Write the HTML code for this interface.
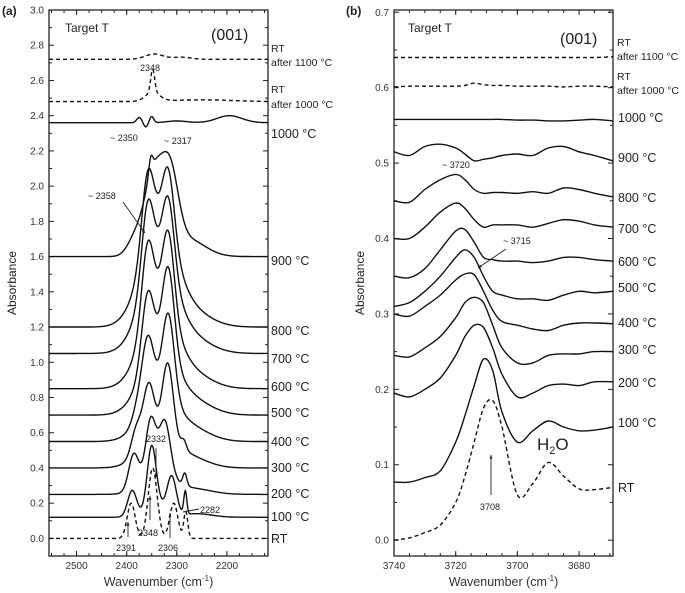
<!DOCTYPE html>
<html><head><meta charset="utf-8">
<style>
html,body{margin:0;padding:0;background:#fff;}
svg{display:block;font-family:"Liberation Sans",Arial,sans-serif;}
</style></head>
<body>
<svg id="chart" width="685" height="593" viewBox="0 0 685 593">
<g id="L"></g>
<g id="R"></g>
</svg>
<script>
// ---------- Panel (a) data ----------
const leftLabels = ['RT','100 °C','200 °C','300 °C','400 °C','500 °C','600 °C','700 °C','800 °C','900 °C','1000 °C','RT after 1000 °C','RT after 1100 °C'];
const leftBase = [0,0.12,0.25,0.40,0.55,0.70,0.85,1.05,1.20,1.60,2.36,2.48,2.72];
const leftDashed = [true,false,false,false,false,false,false,false,false,false,false,true,true];
// peaks: [center, height, sigma]
const leftPeaks = [
 [[2391,0.20,8],[2348,0.40,9],[2306,0.20,8],[2282,0.15,4]],
 [[2389,0.15,9],[2350,0.36,9],[2310,0.2,9],[2283,0.13,3],[2335,0.06,22],[2260,0.02,30]],
 [[2386,0.2,10],[2352,0.32,10],[2324,0.3,11],[2284,0.07,4],[2337,0.12,30],[2265,0.03,35]],
 [[2381,0.14,10],[2356,0.32,11],[2318,0.42,11],[2286,0.05,5],[2337,0.18,35],[2270,0.05,35]],
 [[2380,0.06,10],[2358,0.38,12],[2317,0.48,12],[2337,0.25,35],[2272,0.07,38]],
 [[2358,0.4,12],[2317,0.5,12],[2337,0.35,35],[2272,0.08,40]],
 [[2358,0.45,12],[2317,0.47,12],[2337,0.45,35],[2272,0.08,40]],
 [[2358,0.44,12],[2317,0.42,12],[2337,0.5,35],[2272,0.08,40]],
 [[2358,0.42,12],[2317,0.39,12],[2337,0.55,35],[2272,0.08,40]],
 [[2345,0.47,20],[2312,0.37,16],[2352,0.09,4],[2280,0.1,35],[2385,0.08,15]],
 [[2375,0.03,5],[2362,-0.025,4],[2350,0.035,4],[2195,0.04,25],[2300,0.01,20]],
 [[2348,0.13,4],[2348,0.05,14],[2250,0.01,60]],
 [[2345,0.03,18],[2290,0.012,18]]
];
const leftYTicks = ['0.0','0.2','0.4','0.6','0.8','1.0','1.2','1.4','1.6','1.8','2.0','2.2','2.4','2.6','2.8','3.0'];
const leftXTicks = [2500,2400,2300,2200];

// ---------- Panel (b) data ----------
const rightX = [3740,3735,3730,3725,3720,3717,3714,3711,3708,3705,3700,3695,3690,3685,3680,3675,3669];
const rightLabels = ['RT','100 °C','200 °C','300 °C','400 °C','500 °C','600 °C','700 °C','800 °C','900 °C','1000 °C','RT after 1000 °C','RT after 1100 °C'];
const rightDashed = [true,false,false,false,false,false,false,false,false,false,false,true,true];
const rightRT   = [0,0.003,0.01,0.02,0.05,0.085,0.13,0.175,0.185,0.15,0.06,0.075,0.103,0.085,0.068,0.067,0.07];
const right100  = [0.077,0.077,0.083,0.092,0.13,0.165,0.205,0.24,0.225,0.17,0.13,0.145,0.158,0.15,0.145,0.146,0.15];
const right200  = [0.195,0.19,0.2,0.215,0.245,0.27,0.285,0.282,0.255,0.22,0.19,0.195,0.205,0.207,0.205,0.21,0.21];
const right300  = [0.245,0.243,0.255,0.27,0.295,0.315,0.322,0.315,0.285,0.255,0.235,0.235,0.245,0.247,0.247,0.25,0.25];
const right400  = [0.30,0.297,0.31,0.325,0.345,0.353,0.352,0.33,0.305,0.29,0.285,0.28,0.278,0.285,0.288,0.288,0.287];
const right500  = [0.31,0.315,0.33,0.35,0.375,0.385,0.375,0.35,0.33,0.325,0.32,0.32,0.318,0.325,0.33,0.328,0.33];
const right600  = [0.35,0.348,0.36,0.385,0.41,0.412,0.395,0.375,0.372,0.37,0.37,0.368,0.37,0.375,0.375,0.372,0.37];
const right700  = [0.40,0.40,0.415,0.435,0.447,0.44,0.425,0.415,0.418,0.418,0.418,0.415,0.42,0.425,0.423,0.418,0.415];
const right800  = [0.45,0.448,0.465,0.478,0.485,0.478,0.465,0.46,0.461,0.461,0.46,0.462,0.46,0.467,0.465,0.46,0.455];
const right900  = [0.515,0.51,0.522,0.525,0.52,0.512,0.503,0.505,0.507,0.51,0.512,0.51,0.52,0.522,0.515,0.51,0.503];
const right1000 = [0.558,0.558,0.558,0.558,0.558,0.558,0.558,0.558,0.558,0.558,0.557,0.557,0.556,0.556,0.557,0.558,0.556];
const rightRT1000 = [0.601,0.602,0.602,0.602,0.602,0.603,0.606,0.604,0.603,0.603,0.602,0.602,0.602,0.601,0.602,0.602,0.601];
const rightRT1100 = [0.64,0.64,0.64,0.64,0.64,0.64,0.64,0.64,0.64,0.64,0.64,0.64,0.64,0.64,0.64,0.64,0.641];
const rightSeries = [rightRT,right100,right200,right300,right400,right500,right600,right700,right800,right900,right1000,rightRT1000,rightRT1100];
const rightYTicks = ['0.0','0.1','0.2','0.3','0.4','0.5','0.6','0.7'];
const rightXTicks = [3740,3720,3700,3680];

const NS='http://www.w3.org/2000/svg';
function mk(parent,tag,attrs,text){const e=document.createElementNS(NS,tag);for(const k in attrs)e.setAttribute(k,attrs[k]);if(text!==undefined)e.textContent=text;parent.appendChild(e);return e;}

const LA={x0:49,x1:268,y0:10,y1:556,xmin:2555,xmax:2118,ymin:-0.1,ymax:3.0};
function lx(v){return LA.x0+(v-LA.xmin)/(LA.xmax-LA.xmin)*(LA.x1-LA.x0);}
function ly(v){return LA.y1-(v-LA.ymin)/(LA.ymax-LA.ymin)*(LA.y1-LA.y0);}
const RA={x0:394,x1:613,y0:10,y1:556,xmin:3740,xmax:3669,ymin:-0.021,ymax:0.703};
function rx(v){return RA.x0+(v-RA.xmin)/(RA.xmax-RA.xmin)*(RA.x1-RA.x0);}
function ry(v){return RA.y1-(v-RA.ymin)/(RA.ymax-RA.ymin)*(RA.y1-RA.y0);}

function catmull(pts){let d='M'+pts[0][0].toFixed(1)+','+pts[0][1].toFixed(1);
 for(let i=0;i<pts.length-1;i++){const p0=pts[i-1]||pts[i],p1=pts[i],p2=pts[i+1],p3=pts[i+2]||p2;
  const c1=[p1[0]+(p2[0]-p0[0])/6,p1[1]+(p2[1]-p0[1])/6],c2=[p2[0]-(p3[0]-p1[0])/6,p2[1]-(p3[1]-p1[1])/6];
  d+='C'+c1[0].toFixed(1)+','+c1[1].toFixed(1)+' '+c2[0].toFixed(1)+','+c2[1].toFixed(1)+' '+p2[0].toFixed(1)+','+p2[1].toFixed(1);}
 return d;}

const L=document.getElementById('L'), R=document.getElementById('R');
const defs=mk(document.getElementById('chart'),'defs',{});
const cpL=mk(defs,'clipPath',{id:'cpL'});mk(cpL,'rect',{x:LA.x0,y:LA.y0,width:LA.x1-LA.x0,height:LA.y1-LA.y0});
const cpR=mk(defs,'clipPath',{id:'cpR'});mk(cpR,'rect',{x:RA.x0,y:RA.y0,width:RA.x1-RA.x0,height:RA.y1-RA.y0});

function axes(g,A,fx,fy,yt,xt,yStep,xMinorStep){
 const fr=mk(g,'rect',{x:A.x0,y:A.y0,width:A.x1-A.x0,height:A.y1-A.y0,fill:'none',stroke:'#222','stroke-width':1.3});
 
 yt.forEach((t,i)=>{const v=parseFloat(t);const y=fy(v);
  mk(g,'line',{x1:A.x0,x2:A.x0+5,y1:y,y2:y,stroke:'#222'});mk(g,'line',{x1:A.x1,x2:A.x1-5,y1:y,y2:y,stroke:'#222'});
  const m=fy(v+yStep/2);if(m>A.y0){mk(g,'line',{x1:A.x0,x2:A.x0+3,y1:m,y2:m,stroke:'#222'});mk(g,'line',{x1:A.x1,x2:A.x1-3,y1:m,y2:m,stroke:'#222'});}
  const m2=fy(v-yStep/2);if(i===0&&m2<A.y1){mk(g,'line',{x1:A.x0,x2:A.x0+3,y1:m2,y2:m2,stroke:'#222'});}
  const tx=mk(g,'text',{x:A.x0-5,y:y+3.5,'text-anchor':'end','font-size':10,fill:'#333'},t);
  });
 const lo=Math.min(A.xmin,A.xmax),hi=Math.max(A.xmin,A.xmax);
 for(let v=Math.ceil(lo/xMinorStep)*xMinorStep;v<=hi;v+=xMinorStep){const x=fx(v);
  mk(g,'line',{x1:x,x2:x,y1:A.y1,y2:A.y1-3,stroke:'#222'});mk(g,'line',{x1:x,x2:x,y1:A.y0,y2:A.y0+3,stroke:'#222'});}
 xt.forEach(v=>{const x=fx(v);mk(g,'line',{x1:x,x2:x,y1:A.y1,y2:A.y1-5,stroke:'#222'});mk(g,'line',{x1:x,x2:x,y1:A.y0,y2:A.y0+5,stroke:'#222'});
  const tx=mk(g,'text',{x:x,y:A.y1+13,'text-anchor':'middle','font-size':10,fill:'#333'},String(v));
  });
 const xtl=mk(g,'text',{x:(A.x0+A.x1)/2,y:586,'text-anchor':'middle','font-size':12.5,fill:'#333'});
 
 xtl.appendChild(document.createTextNode('Wavenumber (cm'));
 mk(xtl,'tspan',{dy:-5,'font-size':8},'-1');mk(xtl,'tspan',{dy:5},')');
}
axes(L,LA,lx,ly,leftYTicks,leftXTicks,0.2,25);
axes(R,RA,rx,ry,rightYTicks,rightXTicks,0.1,5);

const gl=mk(L,'g',{'clip-path':'url(#cpL)'});
leftBase.forEach((b,i)=>{const pts=[];
 for(let w=LA.xmin;w>=LA.xmax;w-=1){let v=b;leftPeaks[i].forEach(p=>{v+=p[1]*Math.exp(-(w-p[0])*(w-p[0])/(2*p[2]*p[2]));});pts.push([lx(w),ly(v)]);}
 const d='M'+pts.map(p=>p[0].toFixed(1)+','+p[1].toFixed(1)).join('L');
 const a={d:d,fill:'none',stroke:'#111','stroke-width':1.4};if(leftDashed[i])a['stroke-dasharray']='4,3';
 const p=mk(gl,'path',a);
});
const gr=mk(R,'g',{'clip-path':'url(#cpR)'});
rightSeries.forEach((s,i)=>{const pts=s.map((v,j)=>[rx(rightX[j]),ry(v)]);
 const a={d:catmull(pts),fill:'none',stroke:'#111','stroke-width':1.4};if(rightDashed[i])a['stroke-dasharray']='4,3';
 const p=mk(gr,'path',a);
});

function txt(g,x,y,s,size,name,extra){const a={x:x,y:y,'font-size':size,fill:'#222'};if(extra)for(const k in extra)a[k]=extra[k];const t=mk(g,'text',a,s);return t;}
const lLab=[[271,539,'RT'],[271,517,'100 °C'],[271,494,'200 °C'],[271,468,'300 °C'],[271,442,'400 °C'],[271,413,'500 °C'],[271,387,'600 °C'],[271,359,'700 °C'],[271,331,'800 °C'],[271,261,'900 °C'],[271,134,'1000 °C']];
lLab.forEach(l=>txt(L,l[0],l[1]+4,l[2],12.5,'curve-label'));
txt(L,271,52,'RT',10.5,'curve-label');txt(L,271,66,'after 1100 °C',10.5,'curve-label');
txt(L,271,93,'RT',10.5,'curve-label');txt(L,271,108,'after 1000 °C',10.5,'curve-label');
const rLab=[[618,492,'RT'],[618,427,'100 °C'],[618,387,'200 °C'],[618,354,'300 °C'],[618,327,'400 °C'],[618,292,'500 °C'],[618,266,'600 °C'],[618,233,'700 °C'],[618,202,'800 °C'],[618,162,'900 °C'],[618,122,'1000 °C']];
rLab.forEach(l=>txt(R,l[0],l[1],l[2],12.5,'curve-label'));
txt(R,617,46,'RT',10.5,'curve-label');txt(R,617,60,'after 1100 °C',10.5,'curve-label');
txt(R,617,80,'RT',10.5,'curve-label');txt(R,617,94,'after 1000 °C',10.5,'curve-label');

txt(L,2,15,'(a)',12,'panel-label-a',{'font-weight':'bold'});
txt(R,346,15,'(b)',12,'panel-label-b',{'font-weight':'bold'});
txt(L,65,32,'Target T',12,'sample-label');txt(L,211,40,'(001)',16,'orientation-label');
txt(R,408,32,'Target T',12,'sample-label');txt(R,560,44,'(001)',16,'orientation-label');
txt(L,16,283,'Absorbance',12,'y-axis-title',{transform:'rotate(-90 16 283)','text-anchor':'middle'});
txt(R,364,283,'Absorbance',12,'y-axis-title',{transform:'rotate(-90 364 283)','text-anchor':'middle'});

const an=[[150,71,'2348'],[110,141,'~ 2350'],[164,144,'~ 2317'],[88,199,'~ 2358'],[146,442,'2332'],[116,551,'2391'],[138,536,'2348'],[158,551,'2306'],[200,513,'2282']];
an.forEach(a=>txt(L,a[0],a[1],a[2],9,'peak-annotation',a[0]===150?{'text-anchor':'middle'}:{}));
function arrow(g,x1,y1,x2,y2){const l=mk(g,'line',{x1:x1,y1:y1,x2:x2,y2:y2,stroke:'#222','stroke-width':0.9});
 const ang=Math.atan2(y2-y1,x2-x1),s=4;mk(g,'path',{d:`M${x2},${y2}L${x2-s*Math.cos(ang-0.4)},${y2-s*Math.sin(ang-0.4)}L${x2-s*Math.cos(ang+0.4)},${y2-s*Math.sin(ang+0.4)}Z`,fill:'#222'});}
arrow(L,123,202,145,233);arrow(L,156,448,156,477);arrow(L,128,537,128,522);arrow(L,150,520,150,496);arrow(L,170,538,170,513);
const ln=mk(L,'line',{x1:199,y1:509,x2:183,y2:512,stroke:'#222','stroke-width':0.9});
txt(R,442,168,'~ 3720',9,'peak-annotation');txt(R,503,244,'~ 3715',9,'peak-annotation');
arrow(R,506,249,478,268);
txt(R,480,510,'3708',9,'peak-annotation');arrow(R,491,495,491,455);
const h=txt(R,537,450,'H',17,'water-label');mk(h,'tspan',{dy:4,'font-size':11},'2');mk(h,'tspan',{dy:-4},'O');
</script>
</body></html>
